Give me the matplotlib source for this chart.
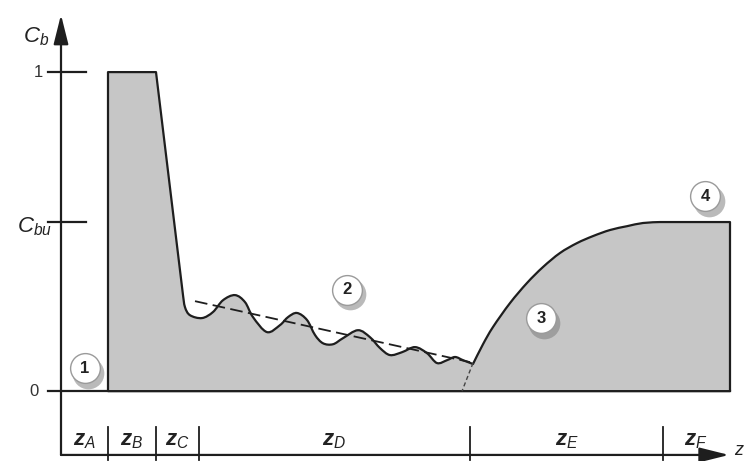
import matplotlib
matplotlib.use("Agg")
import matplotlib.pyplot as plt
import numpy as np
from matplotlib.path import Path
from matplotlib.patches import PathPatch

plt.rcParams['font.family'] = ['Liberation Sans', 'DejaVu Sans']
plt.rcParams['mathtext.fontset'] = 'custom'
plt.rcParams['mathtext.it'] = 'Liberation Sans:italic'
plt.rcParams['mathtext.bf'] = 'Liberation Sans:bold:italic'
plt.rcParams['mathtext.rm'] = 'Liberation Sans'

# concentration profile C_b(z), z in arbitrary units, C relative to inlet
c_bu = 0.53
# step / plateau / drop (straight pieces)
z_front = [0.47, 0.47, 0.95, 1.22]
c_front = [0.0, 1.0, 1.0, 0.301]
# oscillating zone D
z_wave = [1.22, 1.24, 1.29, 1.41, 1.52, 1.62, 1.74, 1.84, 1.92, 2.06, 2.19, 2.27,
          2.36, 2.46, 2.54, 2.62, 2.72, 2.82, 2.97, 3.09, 3.19, 3.29, 3.41, 3.54,
          3.66, 3.76, 3.86, 3.94, 4.02, 4.12]
c_wave = [0.301, 0.263, 0.238, 0.229, 0.248, 0.285, 0.301, 0.279, 0.232, 0.185, 0.207, 0.232,
          0.245, 0.223, 0.176, 0.150, 0.147, 0.166, 0.191, 0.169, 0.135, 0.113, 0.122, 0.138,
          0.119, 0.088, 0.097, 0.107, 0.097, 0.085]
# recovery zone E
z_rise = [4.12, 4.22, 4.32, 4.49, 4.66, 4.82, 4.99, 5.16, 5.32, 5.49, 5.66, 5.82, 5.99]
c_rise = [0.085, 0.147, 0.201, 0.276, 0.339, 0.389, 0.433, 0.464, 0.486, 0.505, 0.517, 0.527, 0.530]
z_end = 6.69

# dashed lines: trend of oscillations and tangent of the rise
trend_z = [1.34, 4.09]
trend_c = [0.282, 0.091]
tang_z = [4.12, 4.01]
tang_c = [0.088, 0.0]

zone_edges = [0.47, 0.95, 1.38, 4.09, 6.02]
zone_names = ['A', 'B', 'C', 'D', 'E', 'F']
zone_lims = [0.0] + zone_edges + [6.68]

marks = ['1', '2', '3', '4']
mark_z = [0.24, 2.86, 4.80, 6.44]
mark_c = [0.072, 0.317, 0.229, 0.611]

line_col = '#1e1e1e'
fill_col = '#c6c6c6'


def smooth(zs, cs):
    # catmull-rom through the points, as cubic bezier pieces
    p = np.column_stack([zs, cs])
    verts, codes = [], []
    n = len(p)
    for i in range(n - 1):
        p0 = p[i - 1] if i > 0 else p[i]
        p1, p2 = p[i], p[i + 1]
        p3 = p[i + 2] if i + 2 < n else p[i + 1]
        verts += [p1 + (p2 - p0) / 6, p2 - (p3 - p1) / 6, p2]
        codes += [Path.CURVE4] * 3
    return verts, codes


fig = plt.figure(figsize=(7.48, 4.61), dpi=100)
ax = fig.add_axes([0, 0, 1, 1])
ax.set_xlim(-0.61, 6.87)
ax.set_ylim(-0.219, 1.226)
ax.axis('off')

verts = [(z_front[0], c_front[0])]
codes = [Path.MOVETO]
for z, c in zip(z_front[1:], c_front[1:]):
    verts.append((z, c))
    codes.append(Path.LINETO)
v, cd = smooth(z_wave, c_wave)
verts += v
codes += cd
v, cd = smooth(z_rise, c_rise)
verts += v
codes += cd
verts += [(z_end, c_bu), (z_end, 0.0), (z_front[0], 0.0)]
codes += [Path.LINETO, Path.LINETO, Path.CLOSEPOLY]
ax.add_patch(PathPatch(Path(verts, codes), facecolor=fill_col, edgecolor=line_col, lw=1.6,
                       joinstyle='round', zorder=2))

ax.plot(trend_z, trend_c, color=line_col, lw=1.3, dashes=(7, 3), zorder=3)
ax.plot(tang_z, tang_c, color='#444444', lw=1.0, dashes=(3, 2), zorder=3)

# axes
y_ax = -0.2
head = '-|>,head_length=1.8,head_width=0.45'
ax.annotate('', xy=(0, 1.18), xytext=(0, y_ax),
            arrowprops=dict(arrowstyle=head, lw=1.6, color=line_col, shrinkA=0, shrinkB=0))
ax.annotate('', xy=(6.68, y_ax), xytext=(0, y_ax),
            arrowprops=dict(arrowstyle=head, lw=1.6, color=line_col, shrinkA=0, shrinkB=0))
ax.plot([-0.13, z_end], [0, 0], color=line_col, lw=1.6, zorder=1)
for cv in [1.0, c_bu]:
    ax.plot([-0.13, 0.25], [cv, cv], color=line_col, lw=1.6)

ax.text(-0.18, 1.0, '1', fontsize=12, ha='right', va='center', color='#333333')
ax.text(-0.22, 0.0, '0', fontsize=12, ha='right', va='center', color='#333333')
ax.text(-0.09, c_bu - 0.015, r'$C_{bu}$', fontsize=16, ha='right', va='center', color='#222222')
ax.text(-0.12, 1.11, r'$C_{b}$', fontsize=16, ha='right', va='center', color='#222222')
ax.text(6.73, -0.185, r'$z$', fontsize=13, ha='left', va='center', color='#222222')

# zones along the z axis
for ze in zone_edges:
    ax.plot([ze, ze], [-0.113, -0.216], color=line_col, lw=1.3)
for k, name in enumerate(zone_names):
    zm = (zone_lims[k] + zone_lims[k + 1]) / 2
    ax.text(zm, -0.155, r'$\mathbf{z}_{%s}$' % name, fontsize=16, ha='center', va='center',
            color='#222222')

# numbered circles
ax.scatter(np.array(mark_z) + 0.035, np.array(mark_c) - 0.014, s=520, color='#777777',
           alpha=0.5, lw=0, zorder=4)
ax.scatter(mark_z, mark_c, s=460, color='white', edgecolor='#9a9a9a', lw=1.0, zorder=5)
for m, z, c in zip(marks, mark_z, mark_c):
    ax.text(z, c, m, fontsize=12, fontweight='bold', ha='center', va='center',
            color='#222222', zorder=6)

fig.savefig('out.png', dpi=100)
